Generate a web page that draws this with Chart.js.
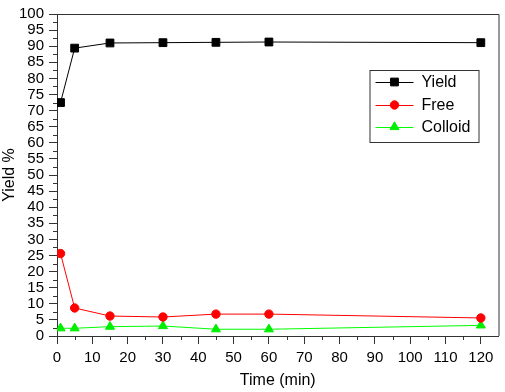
<!DOCTYPE html>
<html>
<head>
<meta charset="utf-8">
<script src="https://cdn.jsdelivr.net/npm/chart.js@4.4.0/dist/chart.umd.min.js"></script>
<style>
  html, body { margin: 0; padding: 0; background: #fff; }
  #wrap { width: 505px; height: 392px; }
</style>
</head>
<body>
<div id="wrap"><canvas id="chart" width="505" height="392"></canvas></div>
<script>
// values
const times = [1, 5, 15, 30, 45, 60, 120];
const yieldPct = [72.5, 89.4, 91.0, 91.1, 91.2, 91.3, 91.1];
const freePct = [25.6, 8.7, 6.2, 5.9, 6.8, 6.8, 5.6];
const colloidPct = [2.4, 2.4, 2.9, 3.1, 2.1, 2.1, 3.3];
const seriesNames = ['Yield', 'Free', 'Colloid'];

const axisColor = '#333';
const fontFamily = "'Liberation Sans', Arial, sans-serif";
Chart.defaults.font.family = fontFamily;
Chart.defaults.color = '#000';

const toPoints = vals => vals.map((v, i) => ({ x: times[i], y: v }));

// top + right frame lines
const frame = {
  id: 'frame',
  afterDraw(chart) {
    const { ctx, chartArea: a } = chart;
    ctx.save();
    ctx.strokeStyle = axisColor;
    ctx.lineWidth = 1;
    ctx.beginPath();
    ctx.moveTo(a.left, a.top + 0.5);
    ctx.lineTo(a.right + 0.5, a.top + 0.5);
    ctx.lineTo(a.right + 0.5, a.bottom);
    ctx.stroke();
    ctx.restore();
  }
};

// minor ticks halfway between the labelled ones
const minorTicks = {
  id: 'minorTicks',
  afterDraw(chart) {
    const { ctx, chartArea: a, scales } = chart;
    ctx.save();
    ctx.strokeStyle = axisColor;
    ctx.lineWidth = 1;
    ctx.beginPath();
    for (let v = 2.5; v < 100; v += 5) {
      const py = Math.round(scales.y.getPixelForValue(v)) + 0.5;
      ctx.moveTo(a.left - 4, py);
      ctx.lineTo(a.left, py);
    }
    for (let v = 5; v < 125; v += 10) {
      const px = Math.round(scales.x.getPixelForValue(v)) + 0.5;
      ctx.moveTo(px, a.bottom);
      ctx.lineTo(px, a.bottom + 4);
    }
    ctx.stroke();
    ctx.restore();
  }
};

function drawMarker(ctx, style, x, y, r, color) {
  ctx.fillStyle = color;
  ctx.strokeStyle = color;
  ctx.beginPath();
  if (style === 'rect') {
    const s = r * Math.SQRT1_2;
    ctx.rect(x - s, y - s, 2 * s, 2 * s);
  } else if (style === 'triangle') {
    ctx.moveTo(x, y - r);
    ctx.lineTo(x + r * 0.866, y + r * 0.5);
    ctx.lineTo(x - r * 0.866, y + r * 0.5);
    ctx.closePath();
  } else {
    ctx.arc(x, y, r, 0, Math.PI * 2);
  }
  ctx.fill();
  ctx.stroke();
}

// legend box drawn inside the plot, line + marker samples
const boxLegend = {
  id: 'boxLegend',
  afterDraw(chart) {
    const { ctx, chartArea: a } = chart;
    const bx = a.right - 129, by = a.top + 56, bw = 109, bh = 72;
    ctx.save();
    ctx.fillStyle = '#fff';
    ctx.fillRect(bx, by, bw, bh);
    ctx.strokeStyle = axisColor;
    ctx.lineWidth = 1;
    ctx.strokeRect(bx + 0.5, by + 0.5, bw, bh);
    const rows = [12, 35, 57];
    chart.data.datasets.forEach((ds, i) => {
      const y = by + rows[i];
      ctx.strokeStyle = ds.borderColor;
      ctx.lineWidth = 1;
      ctx.beginPath();
      ctx.moveTo(bx + 6, y + 0.5);
      ctx.lineTo(bx + 44, y + 0.5);
      ctx.stroke();
      drawMarker(ctx, ds.pointStyle, bx + 25, y, ds.pointRadius, ds.pointBackgroundColor);
      ctx.fillStyle = '#000';
      ctx.font = '16px ' + fontFamily;
      ctx.textBaseline = 'middle';
      ctx.fillText(ds.label, bx + 52, y + 1);
    });
    ctx.restore();
  }
};

new Chart(document.getElementById('chart').getContext('2d'), {
  type: 'line',
  data: {
    datasets: [
      {
        label: seriesNames[0],
        data: toPoints(yieldPct),
        borderColor: '#000',
        borderWidth: 1,
        pointStyle: 'rect',
        pointRadius: 5.5,
        pointBackgroundColor: '#000',
        pointBorderColor: '#000',
        pointBorderWidth: 1
      },
      {
        label: seriesNames[1],
        data: toPoints(freePct),
        borderColor: '#ff0000',
        borderWidth: 1,
        pointStyle: 'circle',
        pointRadius: 4.2,
        pointBackgroundColor: '#ff0000',
        pointBorderColor: '#ff0000',
        pointBorderWidth: 1
      },
      {
        label: seriesNames[2],
        data: toPoints(colloidPct),
        borderColor: '#00ff00',
        borderWidth: 1,
        pointStyle: 'triangle',
        pointRadius: 5.2,
        pointBackgroundColor: '#00ee00',
        pointBorderColor: '#00ee00',
        pointBorderWidth: 1
      }
    ]
  },
  options: {
    responsive: false,
    animation: false,
    devicePixelRatio: 1,
    layout: { padding: { top: 10, right: 2, left: 0, bottom: 0 } },
    plugins: {
      legend: { display: false },
      tooltip: { enabled: false }
    },
    scales: {
      x: {
        type: 'linear',
        min: 0,
        max: 125,
        ticks: {
          stepSize: 10,
          includeBounds: false,
          autoSkip: false,
          maxRotation: 0,
          padding: 5,
          font: { size: 15 },
          color: '#000'
        },
        grid: { drawOnChartArea: false, tickLength: 8, tickColor: axisColor },
        border: { color: axisColor, width: 1 },
        title: {
          display: true,
          text: 'Time (min)',
          font: { size: 16 },
          color: '#000',
          padding: { top: 0, bottom: 2 }
        },
        afterFit(scale) { scale.height = 56; }
      },
      y: {
        min: 0,
        max: 100,
        ticks: {
          stepSize: 5,
          includeBounds: false,
          autoSkip: false,
          padding: 5,
          font: { size: 15 },
          color: '#000'
        },
        grid: { drawOnChartArea: false, tickLength: 8, tickColor: axisColor },
        border: { color: axisColor, width: 1 },
        title: {
          display: true,
          text: 'Yield %',
          font: { size: 16 },
          color: '#000',
          padding: { top: 0, bottom: 0 }
        },
        afterFit(scale) { scale.width = 57; }
      }
    }
  },
  plugins: [frame, minorTicks, boxLegend]
});
</script>
</body>
</html>
